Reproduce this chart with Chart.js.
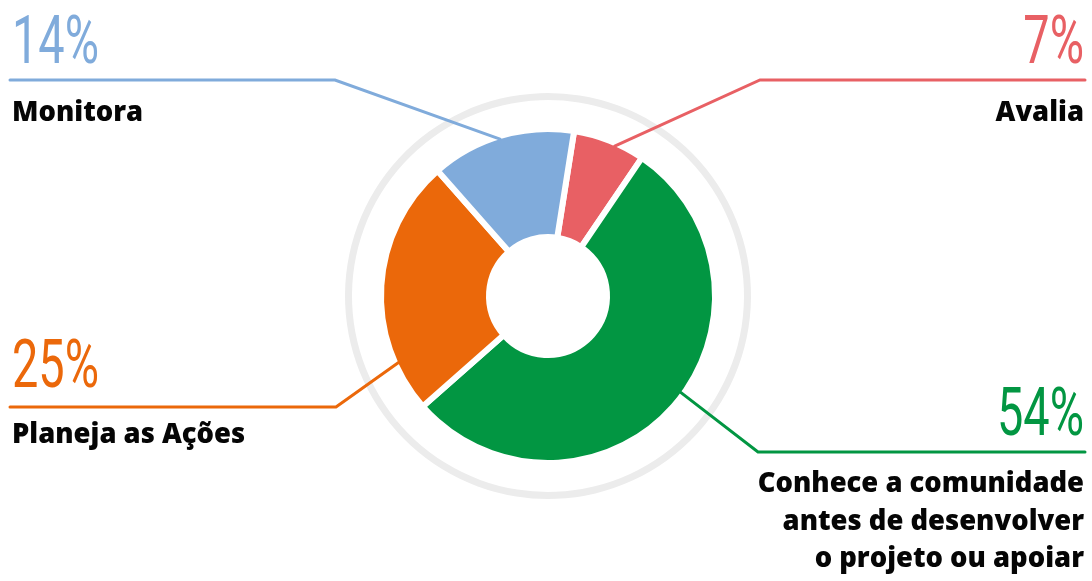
<!DOCTYPE html>
<html>
<head>
<meta charset="utf-8">
<script src="https://cdn.jsdelivr.net/npm/chart.js@4.4.1/dist/chart.umd.min.js"></script>
<style>
  html, body { margin: 0; padding: 0; background: #ffffff; }
  #wrap { width: 1092px; height: 581px; position: relative; }
</style>
</head>
<body>
<div id="wrap"><canvas id="c" width="1092" height="581"></canvas></div>
<script>
// ---- data ----
const categories = [
  ['Avalia'],
  ['Conhece a comunidade', 'antes de desenvolver', 'o projeto ou apoiar'],
  ['Planeja as Ações'],
  ['Monitora']
];
const values = [7, 54, 25, 14];
const colors = ['#e86064', '#029642', '#eb680a', '#80abdb'];

// ---- layout (label placement) ----
const labelLayout = [
  { side: 'right', textX: 1084, pctBase: 63,  lineY: 80,  lineEnd: 1085, elbowX: 760, anchorDeg: 24,  labelBase: 121, lineGap: 37.5 },
  { side: 'right', textX: 1084, pctBase: 435, lineY: 452, lineEnd: 1085, elbowX: 758, anchorDeg: 126, labelBase: 492, lineGap: 37.5 },
  { side: 'left',  textX: 12,   pctBase: 387, lineY: 407, lineEnd: 10,   elbowX: 336, anchorDeg: 246, labelBase: 443, lineGap: 37.5 },
  { side: 'left',  textX: 12,   pctBase: 63,  lineY: 80,  lineEnd: 10,   elbowX: 335, anchorDeg: 343, labelBase: 121, lineGap: 37.5 }
];

const BORDER = 6;

const leaderPlugin = {
  id: 'leaders',
  afterDraw(chart) {
    const ctx = chart.ctx;
    const meta = chart.getDatasetMeta(2);
    meta.data.forEach((arc, i) => {
      const L = labelLayout[i];
      const col = colors[i];
      const R = arc.outerRadius - BORDER / 2;
      const a = L.anchorDeg * Math.PI / 180;
      const ax = arc.x + R * Math.sin(a);
      const ay = arc.y - R * Math.cos(a);
      ctx.save();
      ctx.strokeStyle = col;
      ctx.lineWidth = 3;
      ctx.lineJoin = 'miter';
      ctx.lineCap = 'round';
      ctx.beginPath();
      ctx.moveTo(L.lineEnd, L.lineY);
      ctx.lineTo(L.elbowX, L.lineY);
      ctx.lineTo(ax, ay);
      ctx.stroke();
      ctx.restore();

      // percentage
      ctx.save();
      ctx.fillStyle = col;
      ctx.font = '400 66px Roboto, "Liberation Sans Narrow", sans-serif';
      ctx.textBaseline = 'alphabetic';
      ctx.translate(L.textX, L.pctBase);
      ctx.scale(0.71, 1);
      ctx.textAlign = L.side === 'right' ? 'right' : 'left';
      ctx.fillText(values[i] + '%', 0, 0);
      ctx.restore();

      // category label
      ctx.save();
      ctx.fillStyle = '#050505';
      ctx.font = '800 27.4px "Open Sans", sans-serif';
      ctx.textBaseline = 'alphabetic';
      ctx.textAlign = L.side === 'right' ? 'right' : 'left';
      categories[i].forEach((line, k) => {
        ctx.fillText(line, L.textX, L.labelBase + k * L.lineGap);
      });
      ctx.restore();
    });
  }
};

const INNER = 62 - BORDER / 2;
new Chart(document.getElementById('c'), {
  type: 'doughnut',
  data: {
    labels: categories,
    datasets: [
      { data: [1], backgroundColor: ['#ececec'], borderWidth: 0, weight: 7 },
      { data: [1], backgroundColor: ['rgba(0,0,0,0)'], borderWidth: 0, weight: 196 - (164 + BORDER / 2) },
      { data: values, backgroundColor: colors, borderColor: '#ffffff', borderWidth: BORDER,
        borderJoinStyle: 'miter', weight: (164 + BORDER / 2) - INNER }
    ]
  },
  options: {
    responsive: false,
    animation: false,
    events: [],
    rotation: 9,
    cutout: INNER,
    layout: { padding: { top: 93, bottom: 82, left: 100, right: 96 } },
    plugins: { legend: { display: false }, tooltip: { enabled: false } }
  },
  plugins: [leaderPlugin]
});
</script>
</body>
</html>
